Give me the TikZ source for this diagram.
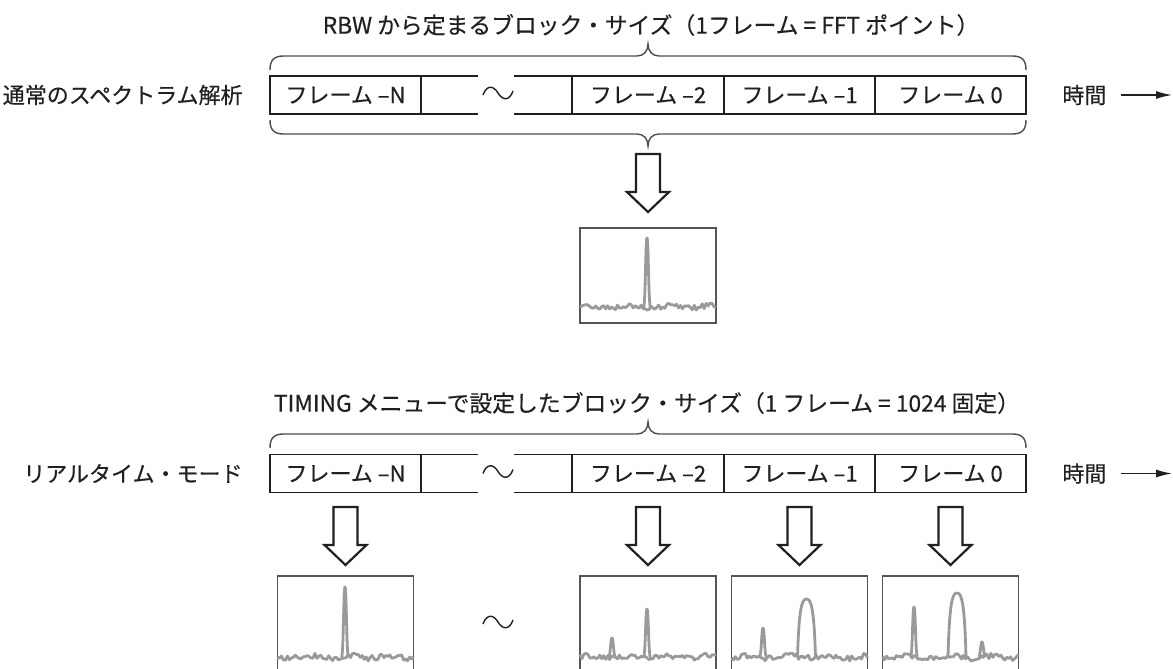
\documentclass[tikz,border=0pt]{standalone}
\usepackage{fontspec}
\setmainfont{Noto Sans CJK JP}[FakeBold=0.4]
\usetikzlibrary{arrows.meta}

\definecolor{ink}{HTML}{231F20}
\definecolor{boxgray}{HTML}{555555}
\definecolor{tracegray}{HTML}{9A9A9C}

\tikzset{
  title/.style={inner sep=0pt, text=ink, font=\fontsize{11.4}{13}\selectfont},
  rowlabel/.style={inner sep=0pt, text=ink, font=\fontsize{11}{13}\selectfont},
  cell/.style={inner sep=0pt, text=ink, font=\fontsize{11}{13}\selectfont},
  frameline/.style={line width=0.7pt, draw=ink, line cap=rect},
  braceline/.style={line width=0.7pt, draw=ink!80},
  blockarr/.style={line width=1.1pt, draw=ink, line join=miter, fill=white},
  plotbox/.style={draw=boxgray, line width=0.6pt, minimum width=68pt, minimum height=47.5pt, inner sep=0pt},
  trace/.style={draw=tracegray, line width=1.4pt, line join=round},
  timearrow/.style={line width=0.7pt, draw=ink, -{Latex[length=8pt,width=4pt]}},
}

% hollow down arrow: x of axis, y of top
\newcommand\blockarrow[2]{%
  \draw[blockarr] (#1-12,#2) -- (#1+12,#2) -- (#1+12,#2+38) -- (#1+21,#2+38)
    -- (#1,#2+58) -- (#1-21,#2+38) -- (#1-12,#2+38) -- cycle;}
% brace over the frame row: y of its line, 1 = tip up, -1 = tip down
\newcommand\hbrace[2]{%
  \draw[braceline] (270,{#1+14*(#2)}) .. controls (270,{#1+4*(#2)}) and (274,#1) .. (284,#1)
    -- (637,#1) .. controls (644,#1) and (648,{#1-5*(#2)}) .. (648,{#1-12*(#2)})
    .. controls (648,{#1-5*(#2)}) and (652,#1) .. (659,#1)
    -- (1012,#1) .. controls (1022,#1) and (1026,{#1+4*(#2)}) .. (1026,{#1+14*(#2)});}
\newcommand\tildemark[2]{%
  \draw[line width=0.7pt, draw=ink] (#1-15,#2+2) .. controls (#1-11,#2-9) and (#1-4,#2-7) .. (#1,#2)
    .. controls (#1+4,#2+7) and (#1+11,#2+9) .. (#1+15,#2-2);}
% noisy floor of a spectrum: left x, baseline y
\newcommand\noisetrace[2]{%
  \pgfmathsetmacro\nl{#1}\pgfmathsetmacro\nr{#1+136}%
  \draw[trace] plot[variable=\t, domain=\nl:\nr, samples=70] (\t,{#2+2.8*rand+1.2*sin(\t*9)});}
\newcommand\spike[3]{%
  \draw[trace] (#1-3.5,#2) .. controls (#1-1.5,#2) and (#1-1.5,#3) .. (#1,#3)
    .. controls (#1+1.5,#3) and (#1+1.5,#2) .. (#1+3.5,#2);}
\newcommand\hump[3]{%
  \draw[trace] (#1-9,#2) .. controls (#1-7.5,#3+8) and (#1-4.5,#3) .. (#1,#3)
    .. controls (#1+4.5,#3) and (#1+7.5,#3+8) .. (#1+9,#2);}

\begin{document}
\begin{tikzpicture}[x=0.5pt, y=-0.5pt]
  \useasboundingbox (0,0) rectangle (1173,669);
  \pgfmathsetseed{11}

  \node[title] (ttop) at (651,25) {RBW から定まるブロック・サイズ（1フレーム = FFT ポイント）};
  \node[title] (tbot) at (647,403) {TIMING メニューで設定したブロック・サイズ（1 フレーム = 1024 固定）};

  \node[rowlabel, anchor=east] (lnorm) at (243,95) {通常のスペクトラム解析};
  \node[rowlabel, anchor=east] (lreal) at (243,473.5) {リアルタイム・モード};

  % frame rows
  \foreach \r/\y in {t/95, b/473.5} {
    \draw[frameline] (270,\y-19) -- (477,\y-19) (515,\y-19) -- (1026,\y-19)
      (270,\y+19) -- (477,\y+19) (515,\y+19) -- (1026,\y+19);
    \foreach \x in {270,421,572,724,875,1026} {\draw[frameline] (\x,\y-19) -- (\x,\y+19);}
    \tildemark{498}{\y-2}
    \node[cell] (\r-N) at (345.5,\y) {フレーム –N};
    \node[cell] (\r-2) at (648,\y) {フレーム –2};
    \node[cell] (\r-1) at (799.5,\y) {フレーム –1};
    \node[cell] (\r-0) at (950.5,\y) {フレーム 0};
    \node[rowlabel, anchor=west] (\r-jk) at (1062,\y) {時間};
    \coordinate (\r-end) at (1172,\y);
    \draw[timearrow] ([xshift=7pt]\r-jk.east) -- (\r-end);
  }

  \hbrace{56}{1}
  \hbrace{134}{-1}
  \hbrace{434}{1}

  % normal analysis: one spectrum
  \blockarrow{648}{154}
  \node[plotbox] (sp) at (648,275.5) {};
  \noisetrace{580}{307}
  \spike{647}{307}{238}

  % realtime mode: one spectrum per frame
  \foreach \n/\x in {N/345.5, 2/648, 1/799.5, 0/950.5} {
    \blockarrow{\x}{507}
    \node[plotbox] (rt-\n) at (\x,623.5) {};
    \noisetrace{\x-68}{657}
  }
  \tildemark{498}{622}
  \spike{345}{657}{587}
  \spike{612}{657}{638}
  \spike{647}{657}{609}
  \spike{763}{657}{628}
  \hump{806.5}{657}{599}
  \spike{914}{657}{607}
  \hump{957}{657}{593}
  \spike{982}{657}{642}
\end{tikzpicture}
\end{document}
